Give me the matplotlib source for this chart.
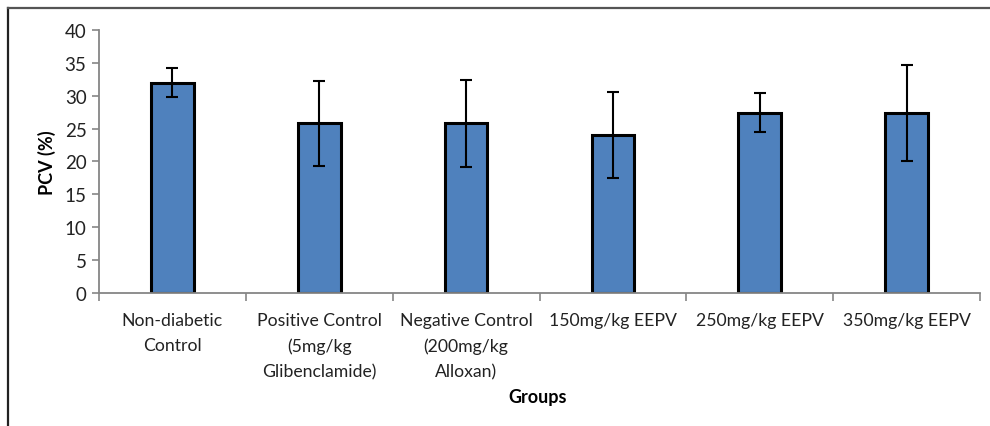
"""PCV (%) by treatment group, bar chart with error bars."""

import matplotlib

matplotlib.use("Agg")
import matplotlib.pyplot as plt
from matplotlib.lines import Line2D

GROUPS = ["Non-diabetic\nControl",
          "Positive Control\n(5mg/kg\nGlibenclamide)",
          "Negative Control\n(200mg/kg\nAlloxan)",
          "150mg/kg EEPV",
          "250mg/kg EEPV",
          "350mg/kg EEPV"]
PCV = [32.0, 25.8, 25.8, 24.0, 27.4, 27.4]
ERR = [2.2, 6.5, 6.6, 6.5, 2.95, 7.3]

plt.rcParams["font.family"] = ["Lato", "DejaVu Sans"]
AXIS_GRAY = "#868686"

fig = plt.figure(figsize=(9.9, 4.27), dpi=100)
ax = fig.add_axes([0.1, 0.3115, 0.8899, 0.616])

x = list(range(len(GROUPS)))
ax.bar(x, PCV, width=0.29, color="#4F81BD", edgecolor="black", linewidth=2.2,
       zorder=2)
ax.errorbar(x, PCV, yerr=ERR, fmt="none", ecolor="black", elinewidth=1.5,
            capsize=4, capthick=1.5, zorder=3)

ax.set_xlim(-0.5, len(GROUPS) - 0.5)
ax.set_ylim(0, 40)
ax.set_yticks(range(0, 41, 5))
ax.set_xticks([i - 0.5 for i in range(len(GROUPS) + 1)], minor=False)
ax.set_xticklabels([])
ax.set_xticks(x, minor=True)
ax.set_xticklabels(GROUPS, minor=True, fontsize=12.7, color="#222222",
                   linespacing=1.68)
ax.tick_params(axis="x", which="minor", length=0, pad=14)
ax.tick_params(axis="x", which="major", length=6, width=1.2, color=AXIS_GRAY)
ax.tick_params(axis="y", length=5, width=1.2, color=AXIS_GRAY, labelsize=13.5,
               labelcolor="#222222", pad=4)
for side in ("top", "right"):
    ax.spines[side].set_visible(False)
for side in ("left", "bottom"):
    ax.spines[side].set_color(AXIS_GRAY)
    ax.spines[side].set_linewidth(1.3)

ax.set_ylabel("PCV (%)", fontsize=13, fontweight="bold", labelpad=6)
fig.text(0.543, 0.068, "Groups", fontsize=13, fontweight="bold",
         ha="center", va="center")

# frame of the original picture (only left and top edges visible)
bx, by = 7.5 / 990, 1 - 8.5 / 427
fig.add_artist(Line2D([bx, bx], [0, by], transform=fig.transFigure,
                      color="#222222", lw=1.6))
fig.add_artist(Line2D([bx, 1], [by, by], transform=fig.transFigure,
                      color="#555555", lw=1.6))

fig.savefig("out.png", dpi=100)
